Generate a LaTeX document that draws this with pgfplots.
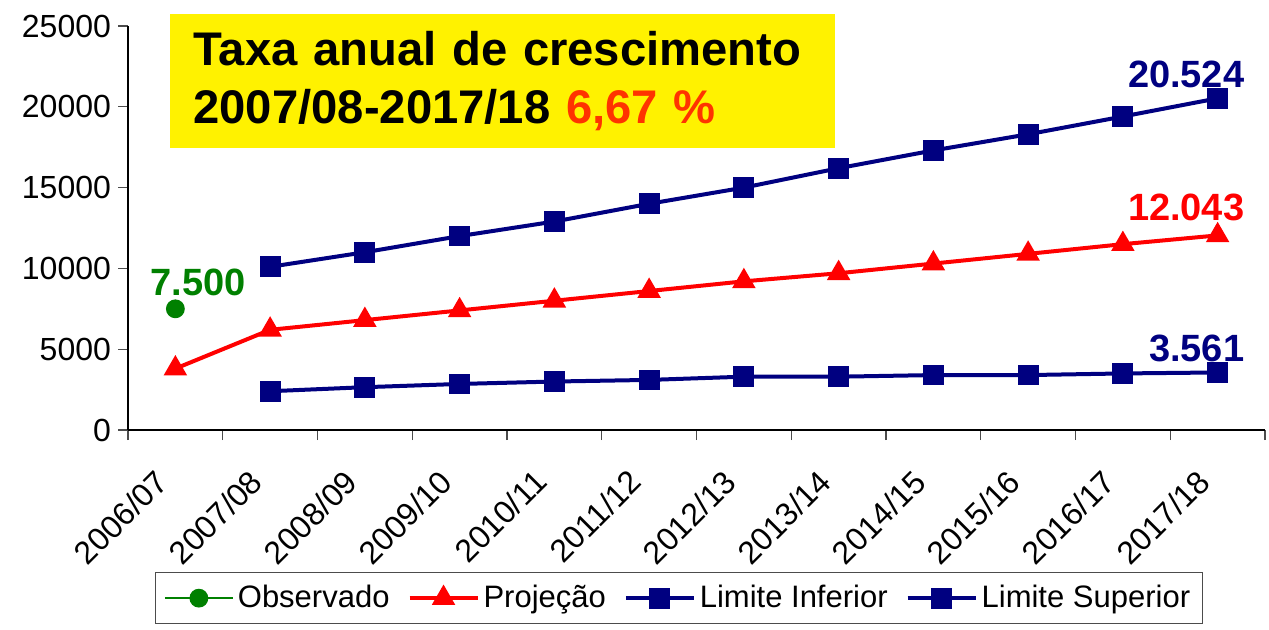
\documentclass[border=0pt]{standalone}
\usepackage{pgfplots}
\pgfplotsset{compat=1.18}
\usepackage{fontspec}
\setmainfont{Liberation Sans}

\definecolor{navy}{RGB}{0,0,128}
\definecolor{obsgreen}{RGB}{0,128,0}
\definecolor{taxared}{RGB}{255,51,0}

\begin{document}
\begin{tikzpicture}
\begin{axis}[
    scale only axis,
    width=568.5pt, height=202pt,
    at={(0,0)}, anchor=south west,
    clip=false,
    axis lines*=left,
    axis line style={black, line width=0.6pt},
    xmin=-0.5, xmax=11.5,
    ymin=0, ymax=25000,
    ytick={0,5000,...,25000},
    scaled y ticks=false,
    xtick={0,...,11},
    xticklabels={2006/07,2007/08,2008/09,2009/10,2010/11,2011/12,2012/13,2013/14,2014/15,2015/16,2016/17,2017/18},
    minor xtick={-0.5,0.5,...,11.5},
    major x tick style={draw=none},
    tick align=outside,
    major tick length=5pt,
    minor tick length=5pt,
    tick style={black!70, line width=0.6pt},
    /pgf/number format/1000 sep={},
    /pgf/number format/assume math mode=true,
    y tick label style={font=\fontsize{16}{19}\selectfont},
    x tick label style={font=\fontsize{16}{19}\selectfont,
        xshift=-11pt, yshift=-9pt, rotate=45, anchor=north east},
    legend columns=4,
    legend style={
        at={(0.024,-0.351)}, anchor=north west,
        draw=black!70, line width=0.6pt,
        font=\fontsize{15.5}{18}\selectfont,
        inner xsep=4pt, inner ysep=4.5pt,
        /tikz/every even column/.append style={column sep=7pt},
    },
    legend image code/.code={
        \draw[mark repeat=2, mark phase=2] plot coordinates {(0pt,0pt) (17pt,0pt) (34pt,0pt)};
    },
]
\addplot[obsgreen, line width=1pt, mark=*, mark size=4.2pt, mark options={solid}]
    coordinates {(0,7500)};
\addlegendentry{Observado}

\addplot[red, line width=2pt, mark=triangle*, mark size=4.8pt]
    coordinates {(0,3800) (1,6200) (2,6800) (3,7400) (4,8000) (5,8600)
                 (6,9200) (7,9700) (8,10300) (9,10900) (10,11500) (11,12043)};
\addlegendentry{Projeção}

\addplot[navy, line width=2pt, mark=square*, mark size=4.2pt]
    coordinates {(1,2400) (2,2650) (3,2850) (4,3000) (5,3100) (6,3300)
                 (7,3300) (8,3400) (9,3400) (10,3500) (11,3561)};
\addlegendentry{Limite Inferior}

\addplot[navy, line width=2pt, mark=square*, mark size=4.2pt]
    coordinates {(1,10100) (2,11000) (3,12000) (4,12900) (5,14000) (6,15000)
                 (7,16200) (8,17300) (9,18300) (10,19400) (11,20524)};
\addlegendentry{Limite Superior}

% valores destacados
\node[font=\fontsize{19}{22}\selectfont\bfseries, obsgreen, inner sep=0, anchor=base west,
      xshift=-12.5pt, yshift=6.5pt] at (axis cs:0,7500) {7.500};
\node[font=\fontsize{19}{22}\selectfont\bfseries, red, inner sep=0, anchor=base east,
      xshift=13.5pt, yshift=7.5pt] at (axis cs:11,12043) {12.043};
\node[font=\fontsize{19}{22}\selectfont\bfseries, navy, inner sep=0, anchor=base east,
      xshift=13.5pt, yshift=5.5pt] at (axis cs:11,20524) {20.524};
\node[font=\fontsize{19}{22}\selectfont\bfseries, navy, inner sep=0, anchor=base east,
      xshift=13.5pt, yshift=5.5pt] at (axis cs:11,3561) {3.561};

% caixa do título
\node[fill=yellow, anchor=north west, inner xsep=11.5pt, inner ysep=0pt,
      text width=309.5pt, minimum height=67pt, align=left,
      font=\fontsize{23.6}{29}\selectfont\bfseries]
    at (rel axis cs:0.037,1.0297)
    {Taxa anual de crescimento\\2007/08-2017/18 \textcolor{taxared}{6,67 \%}};
\end{axis}
\pgfresetboundingbox
\path[use as bounding box] (-64pt,-99.5pt) rectangle (570.5pt,215pt);
\end{tikzpicture}
\end{document}
